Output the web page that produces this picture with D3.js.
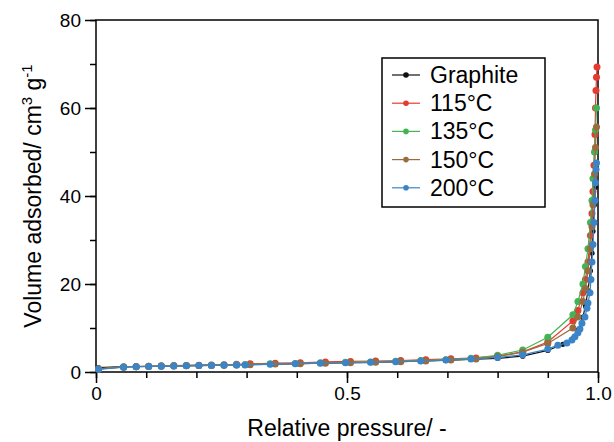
<!DOCTYPE html>
<html><head><meta charset="utf-8">
<script src="https://cdn.jsdelivr.net/npm/d3@7"></script>
<style>html,body{margin:0;padding:0;background:#fff;}svg{display:block;font-family:"Liberation Sans",Arial,Helvetica,sans-serif;}</style>
</head><body><svg id="c" width="614" height="442"></svg>
<script>
const seriesNames = ["Graphite", "115°C", "135°C", "150°C", "200°C"];
const seriesColors = ["#111111", "#e53a30", "#43b455", "#9b6b3e", "#3b84c8"];
const xTicks = [0, 0.5, 1.0];
const xTickLabels = ["0", "0.5", "1.0"];
const yTicks = [0, 20, 40, 60, 80];

const lowP1 = [0.005,0.055,0.08,0.105,0.13,0.155,0.18,0.205,0.23,0.255,0.28,0.297,0.347,0.397,0.447,0.497,0.547,0.597,0.647,0.697,0.747,0.80,0.85,0.90];
const lowP2 = [0.005,0.055,0.08,0.105,0.13,0.155,0.18,0.205,0.23,0.255,0.28,0.307,0.357,0.407,0.457,0.507,0.557,0.607,0.657,0.707,0.757,0.80,0.85,0.90];

const graphiteP = lowP2.concat([0.93,0.95,0.96,0.97,0.975,0.98,0.985,0.988,0.99,0.993,0.995,0.997]);
const graphiteV = [1.0,1.2,1.25,1.3,1.35,1.4,1.45,1.5,1.55,1.6,1.65,1.7,1.8,1.9,2.0,2.1,2.2,2.35,2.5,2.7,2.9,3.1,3.6,4.9,6.3,7.6,9.5,12.5,15,18.5,23,27,32,38,42,46];

const t115P = lowP2.concat([0.95,0.96,0.97,0.975,0.98,0.985,0.988,0.99,0.992,0.994,0.995,0.996,0.997,0.998]);
const t115V = [0.7,1.2,1.25,1.3,1.4,1.45,1.5,1.55,1.6,1.65,1.75,1.85,2.0,2.1,2.3,2.4,2.5,2.6,2.8,3.0,3.2,3.6,4.6,6.8,11.6,14,18,21,25,31,36,41,47,54,60,64,67,69.3];

const t135P = lowP1.concat([0.95,0.96,0.97,0.975,0.98,0.985,0.988,0.99,0.993,0.995,0.997]);
const t135V = [0.7,1.15,1.2,1.3,1.35,1.4,1.45,1.5,1.55,1.6,1.65,1.7,1.85,1.95,2.1,2.2,2.3,2.45,2.6,2.8,3.1,3.8,5.0,7.9,13,16,20,24,28,34,39,44,50,55,60];

const t150P = lowP2.concat([0.95,0.96,0.97,0.975,0.98,0.985,0.988,0.99,0.993,0.995,0.997]);
const t150V = [0.7,1.1,1.2,1.25,1.3,1.35,1.4,1.45,1.5,1.55,1.6,1.65,1.8,1.9,2.0,2.1,2.2,2.35,2.5,2.7,2.95,3.5,4.5,6.5,10,12.5,16,19,23,28,33,38,45,51,55.7];

const t200P = lowP1.concat([0.92,0.938,0.948,0.954,0.96,0.964,0.968,0.974,0.978,0.98,0.984,0.986,0.988,0.99,0.992,0.994,0.995,0.996,0.997]);
const t200V = [0.6,1.1,1.2,1.25,1.3,1.35,1.4,1.45,1.5,1.55,1.6,1.6,1.75,1.9,2.0,2.1,2.2,2.35,2.5,2.7,2.95,3.3,3.9,5.2,6.1,6.6,7.3,8.0,8.9,9.8,11.1,12.5,14.5,15.7,18,21,25,29,34,39,43,46,47.5];

const allP = [graphiteP, t115P, t135P, t150P, t200P];
const allV = [graphiteV, t115V, t135V, t150V, t200V];

const svg = d3.select("#c");
const m = {l:96, r:598, t:20, b:372};
const x = d3.scaleLinear().domain([0,1]).range([m.l, m.r]);
const y = d3.scaleLinear().domain([0,80]).range([m.b, m.t]);

svg.append("rect").attr("x",m.l).attr("y",m.t).attr("width",m.r-m.l).attr("height",m.b-m.t)
  .attr("fill","none").attr("stroke","#000").attr("stroke-width",1.5);

const xAxisMinor = d3.axisBottom(x).tickValues(d3.range(0,1.0001,0.1)).tickSize(6).tickFormat("");
const xAxisMajor = d3.axisBottom(x).tickValues(xTicks).tickSize(11).tickPadding(4).tickFormat((d,i)=>xTickLabels[i]);
[xAxisMinor, xAxisMajor].forEach(ax=>{
  const g = svg.append("g").attr("transform",`translate(0,${m.b})`).call(ax);
  g.select(".domain").remove();
  g.selectAll("line").attr("stroke","#000").attr("stroke-width",1.5);
  g.selectAll("text").attr("font-size",19).attr("fill","#000").attr("font-family","Liberation Sans, Arial, sans-serif");
});
const yAxisMinor = d3.axisLeft(y).tickValues(d3.range(0,80.001,10)).tickSize(6).tickFormat("");
const yAxisMajor = d3.axisLeft(y).tickValues(yTicks).tickSize(11).tickPadding(4).tickFormat(d3.format("d"));
[yAxisMinor, yAxisMajor].forEach(ax=>{
  const g = svg.append("g").attr("transform",`translate(${m.l},0)`).call(ax);
  g.select(".domain").remove();
  g.selectAll("line").attr("stroke","#000").attr("stroke-width",1.5);
  g.selectAll("text").attr("font-size",19).attr("fill","#000").attr("font-family","Liberation Sans, Arial, sans-serif");
});

const line = d3.line().x(d=>x(d[0])).y(d=>y(d[1]));
[0,1,2,3,4].forEach(i=>{
  const pts = allP[i].map((p,j)=>[p, allV[i][j]]);
  const g = svg.append("g");
  g.append("path").datum(pts).attr("d",line).attr("fill","none").attr("stroke",seriesColors[i]).attr("stroke-width",1.2);
  g.selectAll("circle").data(pts).join("circle")
    .attr("cx",d=>x(d[0])).attr("cy",d=>y(d[1])).attr("r",i===0?2.6:3.5).attr("fill",seriesColors[i]);
});

svg.append("text").attr("x",(m.l+m.r)/2).attr("y",436).attr("text-anchor","middle")
  .attr("font-size",23).text("Relative pressure/ -");
const yt = svg.append("text").attr("transform",`translate(41,${(m.t+m.b)/2}) rotate(-90)`)
  .attr("text-anchor","middle").attr("font-size",23);
yt.append("tspan").text("Volume adsorbed/ cm");
yt.append("tspan").attr("font-size",15).attr("dy",-9).text("3");
yt.append("tspan").attr("dy",9).text(" g");
yt.append("tspan").attr("font-size",15).attr("dy",-9).text("-1");

const lg = svg.append("g");
lg.append("rect").attr("x",382).attr("y",58).attr("width",163).attr("height",149)
  .attr("fill","#fff").attr("stroke","#000").attr("stroke-width",1.5);
seriesNames.forEach((n,i)=>{
  const yy = 75 + i*28.2;
  lg.append("line").attr("x1",392).attr("x2",420).attr("y1",yy).attr("y2",yy).attr("stroke",seriesColors[i]).attr("stroke-width",1.2);
  lg.append("circle").attr("cx",406).attr("cy",yy).attr("r",2.8).attr("fill",seriesColors[i]);
  lg.append("text").attr("x",430).attr("y",yy+8).attr("font-size",23).text(n);
});
</script></body></html>
